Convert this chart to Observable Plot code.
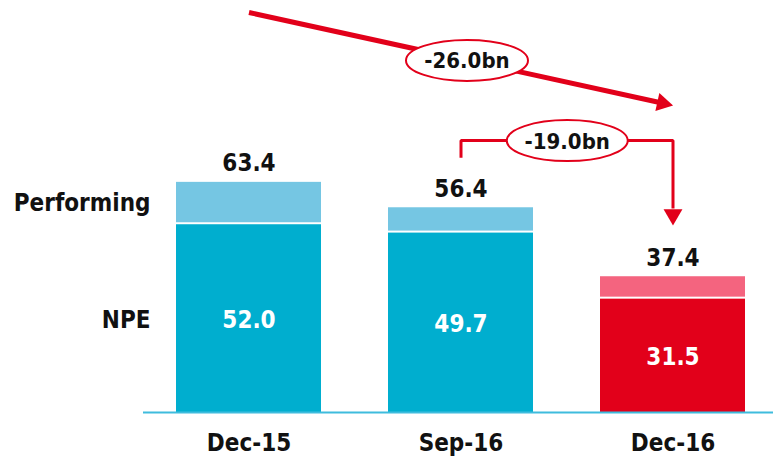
<!DOCTYPE html>
<html>
<head>
<meta charset="utf-8">
<script src="https://cdn.jsdelivr.net/npm/d3@7"></script>
<script src="https://cdn.jsdelivr.net/npm/@observablehq/plot@0.6"></script>
<style>
  html, body { margin: 0; padding: 0; background: #fff; }
  svg { display: block; }
</style>
</head>
<body>
<div id="chart"></div>
<script>
// ---- data ----
const categories = ["Dec-15", "Sep-16", "Dec-16"];
const totals = [63.4, 56.4, 37.4];
const npeValues = [52.0, 49.7, 31.5];
const npeColors = ["#00AECF", "#00AECF", "#E2001A"];
const performingColors = ["#75C6E3", "#75C6E3", "#F4647F"];
const seriesLabels = ["Performing", "NPE"];
const changeLabels = ["-26.0bn", "-19.0bn"];
// annotation levels (in value units)
const bigArrowFrom = "Dec-15", bigArrowTo = "Dec-16";
const bigArrowLevels = [110.2, 84.6];
const bigLabelLevel = 97.0;
const bracketFrom = "Sep-16", bracketTo = "Dec-16";
const bracketLevels = [70.2, 74.9, 56.2];
const bracketTipLevel = 51.5;

const rows = categories.map((c, i) => ({
  cat: c, total: totals[i], npe: npeValues[i],
  npeColor: npeColors[i], perfColor: performingColors[i]
}));

function ellipseSymbol(rx, ry) {
  const k = 0.5523;
  return {
    draw(ctx) {
      ctx.moveTo(rx, 0);
      ctx.bezierCurveTo(rx, ry * k, rx * k, ry, 0, ry);
      ctx.bezierCurveTo(-rx * k, ry, -rx, ry * k, -rx, 0);
      ctx.bezierCurveTo(-rx, -ry * k, -rx * k, -ry, 0, -ry);
      ctx.bezierCurveTo(rx * k, -ry, rx, -ry * k, rx, 0);
      ctx.closePath();
    }
  };
}

const FONT = "DejaVu Sans Condensed";
const RED = "#E2001A";

const bracketPts = [
  {x: bracketFrom, y: bracketLevels[0]},
  {x: bracketFrom, y: bracketLevels[1]},
  {x: bracketTo, y: bracketLevels[1]},
  {x: bracketTo, y: bracketLevels[2]}
];

const chart = Plot.plot({
  width: 773,
  height: 465,
  marginLeft: 154,
  marginRight: 6,
  marginTop: 0,
  marginBottom: 53,
  x: {type: "band", domain: categories, paddingInner: 0.315, paddingOuter: 0.1, align: 0.5, axis: null},
  y: {domain: [0, 113.5], axis: null},
  marks: [
    // bars
    Plot.barY(rows, {x: "cat", y1: 0, y2: "npe", fill: d => d.npeColor, insetTop: 1}),
    Plot.barY(rows, {x: "cat", y1: "npe", y2: "total", fill: d => d.perfColor, insetBottom: 1}),
    // baseline
    Plot.ruleY([0], {stroke: "#3FBCDD", strokeWidth: 2, insetLeft: -11, insetRight: -6}),
    // totals
    Plot.text(rows, {x: "cat", y: "total", text: d => d.total.toFixed(1), lineAnchor: "bottom", dy: -11,
      fontFamily: FONT, fontWeight: "bold", fontSize: 24, fill: "#111"}),
    // npe values
    Plot.text(rows, {x: "cat", y: d => d.npe / 2, text: d => d.npe.toFixed(1), dy: 2,
      fontFamily: FONT, fontWeight: "bold", fontSize: 24, fill: "white"}),
    // series labels
    Plot.text([rows[0]], {frameAnchor: "left", y: d => (d.npe + d.total) / 2, text: () => seriesLabels[0],
      textAnchor: "end", dx: -4, fontFamily: FONT, fontWeight: "bold", fontSize: 24, fill: "#111"}),
    Plot.text([rows[0]], {frameAnchor: "left", y: d => d.npe / 2, text: () => seriesLabels[1],
      textAnchor: "end", dx: -4, dy: 2, fontFamily: FONT, fontWeight: "bold", fontSize: 24, fill: "#111"}),
    // category labels
    Plot.text(categories, {x: d => d, frameAnchor: "bottom", dy: 38, text: d => d,
      fontFamily: FONT, fontWeight: "bold", fontSize: 24, fill: "#111"}),
    // big arrow
    Plot.arrow([0], {x1: () => bigArrowFrom, y1: () => bigArrowLevels[0], x2: () => bigArrowTo, y2: () => bigArrowLevels[1],
      stroke: RED, strokeWidth: 5, headLength: 0, insetEnd: 9, strokeLinecap: "butt"}),
    Plot.dot([0], {x: () => bigArrowTo, y: () => bigArrowLevels[1], symbol: "triangle", r: 6.9, rotate: 102.3,
      dx: -10.4, dy: -2.3, fill: RED, stroke: "none"}),
    Plot.dot([0], {x: () => "Sep-16", y: () => bigLabelLevel, dx: 6, symbol: ellipseSymbol(61, 20.5),
      fill: "white", stroke: RED, strokeWidth: 2}),
    Plot.text([changeLabels[0]], {x: () => "Sep-16", y: () => bigLabelLevel, dx: 6, dy: 1, text: d => d,
      fontFamily: FONT, fontWeight: "bold", fontSize: 22, fill: "#111"}),
    // bracket arrow
    Plot.line(bracketPts, {x: "x", y: "y", stroke: RED, strokeWidth: 3, strokeLinejoin: "miter", strokeLinecap: "butt"}),
    Plot.dot([0], {x: () => bracketTo, y: () => bracketTipLevel, symbol: "triangle", r: 7, rotate: 180,
      dy: -10.9, fill: RED, stroke: "none"}),
    Plot.dot([0], {x: () => bracketFrom, y: () => bracketLevels[1], dx: 106.25, symbol: ellipseSymbol(60.5, 20.5),
      fill: "white", stroke: RED, strokeWidth: 2}),
    Plot.text([changeLabels[1]], {x: () => bracketFrom, y: () => bracketLevels[1], dx: 106.25, dy: 1, text: d => d,
      fontFamily: FONT, fontWeight: "bold", fontSize: 22, fill: "#111"})
  ]
});
document.getElementById("chart").appendChild(chart);
</script>
</body>
</html>
